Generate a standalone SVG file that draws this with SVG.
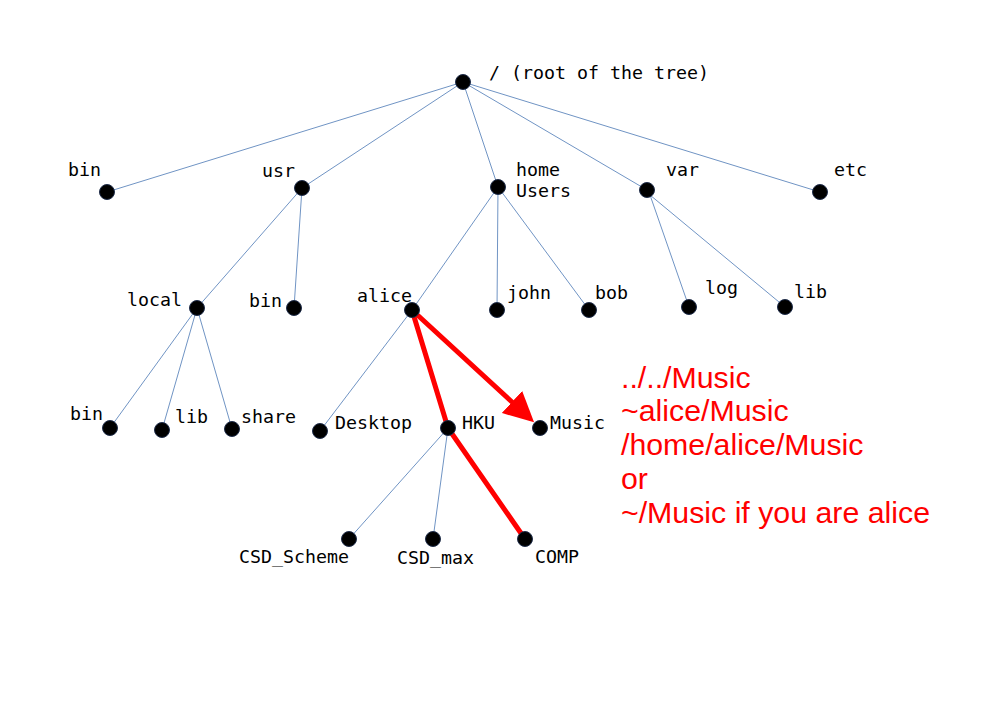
<svg xmlns="http://www.w3.org/2000/svg" width="1000" height="707" viewBox="0 0 1000 707">
<style>
.e{stroke:#7094c4;stroke-width:1;fill:none}
.r{stroke:#ff0000;stroke-width:5;fill:none;stroke-linecap:round}
.d{fill:#000;stroke:#1f2d4a;stroke-width:1}
.t{font-family:"DejaVu Sans Mono",monospace;font-size:18.3px;fill:#000}
.p{font-family:"Liberation Sans",Arial,sans-serif;font-size:30.3px;fill:#ff0000}
</style>
<defs>
<marker id="ah" markerWidth="6" markerHeight="6" refX="0" refY="3" orient="auto" markerUnits="strokeWidth">
<path d="M0,0 L6,3 L0,6 z" fill="#ff0000"/>
</marker>
</defs>
<rect width="1000" height="707" fill="#fff"/>
<g id="connectors">
<line class="e" x1="463" y1="82" x2="107" y2="192"/>
<line class="e" x1="463" y1="82" x2="302" y2="188"/>
<line class="e" x1="463" y1="82" x2="498" y2="187"/>
<line class="e" x1="463" y1="82" x2="647" y2="190"/>
<line class="e" x1="463" y1="82" x2="820" y2="192"/>
<line class="e" x1="302" y1="188" x2="197" y2="308"/>
<line class="e" x1="302" y1="188" x2="294" y2="308"/>
<line class="e" x1="498" y1="187" x2="412" y2="310"/>
<line class="e" x1="498" y1="187" x2="497" y2="310"/>
<line class="e" x1="498" y1="187" x2="589" y2="310"/>
<line class="e" x1="650" y1="195" x2="689" y2="307"/>
<line class="e" x1="650" y1="195" x2="785" y2="307"/>
<line class="e" x1="197" y1="308" x2="110" y2="428"/>
<line class="e" x1="197" y1="308" x2="162" y2="430"/>
<line class="e" x1="197" y1="308" x2="232" y2="429"/>
<line class="e" x1="412" y1="310" x2="320" y2="431"/>
<line class="e" x1="448" y1="428" x2="349" y2="539"/>
<line class="e" x1="448" y1="428" x2="433" y2="539"/>
<line class="r" x1="412" y1="310" x2="448" y2="428"/>
<line class="r" x1="448" y1="428" x2="525" y2="539"/>
<line class="r" x1="412" y1="310" x2="512" y2="402" marker-end="url(#ah)"/>
</g>
<g id="n-root"><circle class="d" cx="463" cy="82" r="7.5"/><text class="t" x="489" y="79">/ (root of the tree)</text></g>
<g id="n-bin"><circle class="d" cx="107" cy="192" r="7.5"/><text class="t" x="68" y="176">bin</text></g>
<g id="n-usr"><circle class="d" cx="302" cy="188" r="7.5"/><text class="t" x="262" y="177">usr</text></g>
<g id="n-home"><circle class="d" cx="498" cy="187" r="7.5"/><text class="t" x="516" y="176">home</text><text class="t" x="516" y="197">Users</text></g>
<g id="n-var"><circle class="d" cx="647" cy="190" r="7.5"/><text class="t" x="666" y="176">var</text></g>
<g id="n-etc"><circle class="d" cx="820" cy="192" r="7.5"/><text class="t" x="834" y="176">etc</text></g>
<g id="n-local"><circle class="d" cx="197" cy="308" r="7.5"/><text class="t" x="127" y="306">local</text></g>
<g id="n-usrbin"><circle class="d" cx="294" cy="308" r="7.5"/><text class="t" x="249" y="307">bin</text></g>
<g id="n-alice"><circle class="d" cx="412" cy="310" r="7.5"/><text class="t" x="357" y="302">alice</text></g>
<g id="n-john"><circle class="d" cx="497" cy="310" r="7.5"/><text class="t" x="507" y="299">john</text></g>
<g id="n-bob"><circle class="d" cx="589" cy="310" r="7.5"/><text class="t" x="595" y="299">bob</text></g>
<g id="n-log"><circle class="d" cx="689" cy="307" r="7.5"/><text class="t" x="705" y="294">log</text></g>
<g id="n-varlib"><circle class="d" cx="785" cy="307" r="7.5"/><text class="t" x="794" y="298">lib</text></g>
<g id="n-localbin"><circle class="d" cx="110" cy="428" r="7.5"/><text class="t" x="70" y="420">bin</text></g>
<g id="n-locallib"><circle class="d" cx="162" cy="430" r="7.5"/><text class="t" x="175" y="423">lib</text></g>
<g id="n-share"><circle class="d" cx="232" cy="429" r="7.5"/><text class="t" x="241" y="423">share</text></g>
<g id="n-desktop"><circle class="d" cx="320" cy="431" r="7.5"/><text class="t" x="335" y="429">Desktop</text></g>
<g id="n-hku"><circle class="d" cx="448" cy="428" r="7.5"/><text class="t" x="462" y="429">HKU</text></g>
<g id="n-music"><circle class="d" cx="540" cy="428" r="7.5"/><text class="t" x="550" y="429">Music</text></g>
<g id="n-scheme"><circle class="d" cx="349" cy="539" r="7.5"/><text class="t" x="239" y="563">CSD_Scheme</text></g>
<g id="n-max"><circle class="d" cx="433" cy="539" r="7.5"/><text class="t" x="397" y="564">CSD_max</text></g>
<g id="n-comp"><circle class="d" cx="525" cy="539" r="7.5"/><text class="t" x="535" y="563">COMP</text></g>
<g id="paths">
<text class="p" x="621" y="388">../../Music</text>
<text class="p" x="621" y="421">~alice/Music</text>
<text class="p" x="621" y="455">/home/alice/Music</text>
<text class="p" x="621" y="489">or</text>
<text class="p" x="621" y="523">~/Music if you are alice</text>
</g>
</svg>
